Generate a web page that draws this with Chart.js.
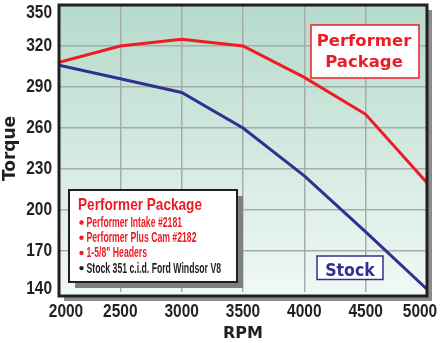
<!DOCTYPE html>
<html>
<head>
<meta charset="utf-8">
<script src="https://cdn.jsdelivr.net/npm/chart.js@4"></script>
<style>
  html, body { margin: 0; padding: 0; background: #fff; }
  canvas { display: block; }
</style>
</head>
<body>
<canvas id="torque" width="441" height="343"></canvas>
<script>
// Dyno data (ft-lb torque vs rpm)
const rpm = [2000, 2500, 3000, 3500, 4000, 4500, 5000];
const performerTorque = [308, 320, 325, 320, 297, 270, 220];
const stockTorque = [306, 296, 286, 260, 225, 184, 142];

// tick labels
const xTickLabels = [2000, 2500, 3000, 3500, 4000, 4500, 5000];
const yTickLabels = [140, 170, 200, 230, 260, 290, 320, 350];

const legendTitle = 'Performer Package';
const legendLines = [
  { text: 'Performer Intake #2181', red: true },
  { text: 'Performer Plus Cam #2182', red: true },
  { text: '1-5/8" Headers', red: true },
  { text: 'Stock 351 c.i.d. Ford Windsor V8', red: false }
];

const RED = '#ed1c24';
const BLUE = '#2e3192';
const INK = '#231f20';
const SANS = '"Liberation Sans", Arial, sans-serif';
const WIDE = '"DejaVu Sans", sans-serif';

// no condensed face installed, so squeeze text horizontally
function condensedText(ctx, text, x, y, sx, align) {
  ctx.save();
  ctx.translate(x, y);
  ctx.scale(sx, 1);
  ctx.textAlign = align;
  ctx.fillText(text, 0, 0);
  ctx.restore();
}

const toPoints = (ys) => rpm.map((r, i) => ({ x: r, y: ys[i] }));

// plot frame: shadow + gradient behind, dark border on top
const framePlugin = {
  id: 'frame',
  beforeDraw(chart) {
    const { ctx, chartArea: a } = chart;
    const w = a.right - a.left, h = a.bottom + 4 - a.top;
    ctx.save();
    ctx.fillStyle = '#8a8c8c';
    ctx.fillRect(a.left + 5, a.top + 5, w, h);
    const g = ctx.createLinearGradient(0, a.top, 0, a.bottom);
    g.addColorStop(0, '#b5dacb');
    g.addColorStop(1, '#f0f8f4');
    ctx.fillStyle = g;
    ctx.fillRect(a.left, a.top, w, h);
    ctx.restore();
  },
  afterDatasetsDraw(chart) {
    const { ctx, chartArea: a } = chart;
    ctx.save();
    ctx.strokeStyle = INK;
    ctx.lineWidth = 3;
    ctx.strokeRect(a.left, a.top, a.right - a.left, a.bottom + 4 - a.top);
    ctx.restore();
  }
};

// tick labels drawn from the scales' own ticks, kept inside the frame ends
const tickLabelsPlugin = {
  id: 'tickLabels',
  afterDraw(chart) {
    const { ctx, chartArea: a, scales: { x, y } } = chart;
    ctx.save();
    ctx.fillStyle = INK;
    ctx.font = 'bold 18px ' + SANS;
    ctx.textBaseline = 'middle';
    y.ticks.forEach((t, i) => {
      const py = Math.min(Math.max(y.getPixelForTick(i), a.top + 8.5), a.bottom - 2.5);
      condensedText(ctx, String(t.value), a.left - 7, py, 0.86, 'right');
    });
    x.ticks.forEach((t, i) => {
      const px = Math.min(Math.max(x.getPixelForTick(i), a.left + 7), a.right - 7);
      condensedText(ctx, String(t.value), px, a.bottom + 20, 0.86, 'center');
    });
    ctx.restore();
  }
};

// the three text boxes inside the plot
const boxesPlugin = {
  id: 'boxes',
  afterDraw(chart) {
    const ctx = chart.ctx;
    ctx.save();

    // legend box with shadow
    ctx.fillStyle = '#7d7f80';
    ctx.fillRect(75, 196, 168, 92);
    ctx.fillStyle = '#fff';
    ctx.fillRect(69, 190, 168, 92);
    ctx.strokeStyle = INK;
    ctx.lineWidth = 2;
    ctx.strokeRect(69, 190, 168, 92);

    ctx.textBaseline = 'alphabetic';
    ctx.fillStyle = RED;
    ctx.font = 'bold 17px ' + SANS;
    condensedText(ctx, legendTitle, 78, 210, 0.8, 'left');
    ctx.font = 'bold 14px ' + SANS;
    legendLines.forEach((l, i) => {
      const y = 227 + i * 15.2;
      ctx.fillStyle = l.red ? RED : INK;
      ctx.beginPath();
      ctx.arc(81.5, y - 4.5, 2.2, 0, Math.PI * 2);
      ctx.fill();
      condensedText(ctx, l.text, 86.5, y, 0.62, 'left');
    });

    // "Performer Package" tag
    ctx.fillStyle = '#fff';
    ctx.fillRect(311, 25, 108, 53);
    ctx.strokeStyle = RED;
    ctx.lineWidth = 1.5;
    ctx.strokeRect(311, 25, 108, 53);
    ctx.fillStyle = RED;
    ctx.textAlign = 'center';
    ctx.font = 'bold 16.5px ' + WIDE;
    ctx.fillText('Performer', 364, 46);
    ctx.fillText('Package', 364, 66.5);

    // "Stock" tag
    ctx.fillStyle = '#fff';
    ctx.fillRect(317, 256, 66, 23.5);
    ctx.strokeStyle = BLUE;
    ctx.strokeRect(317, 256, 66, 23.5);
    ctx.fillStyle = BLUE;
    ctx.font = 'bold 17px ' + WIDE;
    condensedText(ctx, 'Stock', 350, 275.5, 0.93, 'center');

    ctx.restore();
  }
};

new Chart(document.getElementById('torque'), {
  type: 'line',
  data: {
    datasets: [
      {
        label: 'Performer Package',
        data: toPoints(performerTorque),
        borderColor: RED,
        borderWidth: 3,
        pointRadius: 0,
        tension: 0
      },
      {
        label: 'Stock',
        data: toPoints(stockTorque),
        borderColor: BLUE,
        borderWidth: 3,
        pointRadius: 0,
        tension: 0
      }
    ]
  },
  options: {
    responsive: false,
    animation: false,
    layout: { padding: { top: 5, right: 14, left: 0, bottom: 0 } },
    plugins: {
      legend: { display: false },
      tooltip: { enabled: false }
    },
    scales: {
      x: {
        type: 'linear',
        min: 2000,
        max: 5000,
        afterBuildTicks(s) { s.ticks = xTickLabels.map(v => ({ value: v })); },
        afterFit(s) { s.height = 51; s.paddingLeft = 0; s.paddingRight = 0; },
        grid: { color: '#a6acaa', lineWidth: 1.5, drawTicks: false },
        border: { display: false },
        ticks: { display: false },
        title: {
          display: true,
          text: 'RPM',
          color: INK,
          padding: { top: 0, bottom: 0 },
          font: { family: WIDE, size: 16, weight: 'bold' }
        }
      },
      y: {
        min: 140,
        max: 350,
        afterBuildTicks(s) { s.ticks = yTickLabels.map(v => ({ value: v })); },
        afterFit(s) { s.width = 59; s.paddingTop = 0; s.paddingBottom = 0; },
        grid: {
          color: (c) => (c.tick && c.tick.value === 140 ? 'rgba(0,0,0,0)' : '#a6acaa'),
          lineWidth: 1.5,
          drawTicks: false
        },
        border: { display: false },
        ticks: { display: false },
        title: {
          display: true,
          text: 'Torque',
          color: INK,
          padding: 0,
          font: { family: WIDE, size: 17, weight: 'bold' }
        }
      }
    }
  },
  plugins: [framePlugin, tickLabelsPlugin, boxesPlugin]
});
</script>
</body>
</html>
